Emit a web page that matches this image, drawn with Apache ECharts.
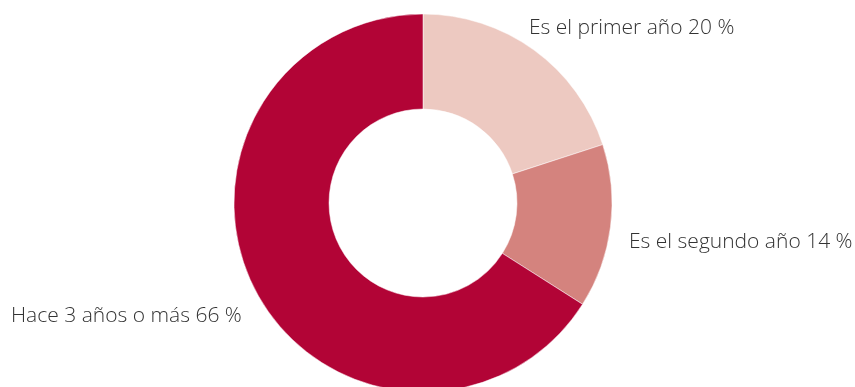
<!DOCTYPE html>
<html><head><meta charset="utf-8">
<script src="https://cdn.jsdelivr.net/npm/echarts@6/dist/echarts.min.js"></script>
<style>html,body{margin:0;padding:0;background:#fff}#c{width:855px;height:387px}</style>
</head><body><div id="c"></div>
<script>
const categories = ['Es el primer año', 'Es el segundo año', 'Hace 3 años o más'];
const values = [20, 14, 66];
const colors = ['#EDC9C1', '#D4837E', '#B20436'];
const labelPos = [[529, 28], [629, 242], [11, 316]];

const chart = echarts.init(document.getElementById('c'));
chart.setOption({
  animation: false,
  series: [{
    type: 'pie',
    center: [423, 203],
    radius: [94, 189],
    startAngle: 90,
    clockwise: true,
    data: categories.map((n, i) => ({ name: n, value: values[i], itemStyle: { color: colors[i] } })),
    itemStyle: { borderColor: '#fff', borderWidth: 0.5 },
    label: {
      show: true,
      position: 'outside',
      formatter: p => p.name + ' ' + p.value + ' %',
      fontFamily: 'Open Sans, Liberation Sans, Arial, sans-serif',
      fontSize: 21,
      fontWeight: 300,
      color: '#333',
      align: 'left',
      verticalAlign: 'middle',
      overflow: 'none',
      width: 400
    },
    labelLine: { show: false },
    labelLayout: p => ({ x: labelPos[p.dataIndex][0], y: labelPos[p.dataIndex][1], align: 'left', verticalAlign: 'middle' }),
    emphasis: { disabled: true }
  }]
});
</script></body></html>
